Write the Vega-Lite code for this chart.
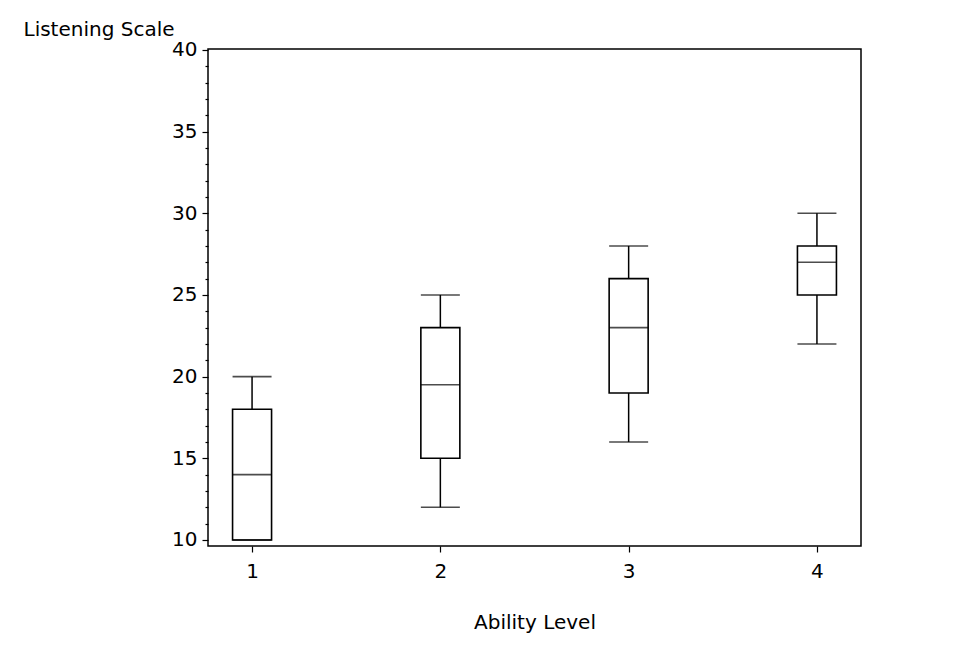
{
  "$schema": "https://vega.github.io/schema/vega-lite/v6.json",
  "width": 653,
  "height": 497,
  "autosize": {"type": "none"},
  "padding": {"left": 208, "top": 49, "right": 106, "bottom": 106},
  "background": "white",
  "config": {
    "view": {"stroke": "black", "strokeWidth": 1.5},
    "font": "DejaVu Sans",
    "axis": {
      "domain": false,
      "grid": false,
      "tickColor": "black",
      "tickWidth": 1.2,
      "labelColor": "black",
      "labelFont": "DejaVu Sans",
      "labelFontSize": 20,
      "labelOverlap": false,
      "titleFont": "DejaVu Sans",
      "titleFontSize": 20,
      "titleFontWeight": "normal",
      "titleColor": "black"
    }
  },
  "data": {
    "values": [
      {"level": "1", "lower": 10, "q1": 10, "median": 14, "q3": 18, "upper": 20},
      {"level": "2", "lower": 12, "q1": 15, "median": 19.5, "q3": 23, "upper": 25},
      {"level": "3", "lower": 16, "q1": 19, "median": 23, "q3": 26, "upper": 28},
      {"level": "4", "lower": 22, "q1": 25, "median": 27, "q3": 28, "upper": 30}
    ]
  },
  "encoding": {
    "x": {
      "field": "level",
      "type": "ordinal",
      "scale": {"type": "point", "padding": 0.234},
      "axis": {
        "title": "Ability Level",
        "labelAngle": 0,
        "tickSize": 6,
        "labelPadding": 9,
        "titlePadding": 31
      }
    }
  },
  "layer": [
    {
      "mark": {"type": "rule", "color": "black", "strokeWidth": 1.5},
      "encoding": {
        "y": {
          "field": "lower",
          "type": "quantitative",
          "scale": {"domain": [9.63, 40.06], "nice": false, "zero": false},
          "axis": {
            "title": "Listening Scale",
            "tickCount": 40,
            "values": [10, 11, 12, 13, 14, 15, 16, 17, 18, 19, 20, 21, 22, 23, 24, 25, 26, 27, 28, 29, 30, 31, 32, 33, 34, 35, 36, 37, 38, 39, 40],
            "labelExpr": "datum.value % 5 === 0 ? datum.label : ''",
            "tickSize": {"condition": {"test": "datum.value % 5 === 0", "value": 6}, "value": 3},
            "labelPadding": 5,
            "titleAngle": 0,
            "titleAlign": "left",
            "titleBaseline": "alphabetic",
            "titleX": -185,
            "titleY": -14
          }
        },
        "y2": {"field": "upper"}
      }
    },
    {
      "mark": {"type": "bar", "fill": "white", "stroke": "black", "strokeWidth": 1.6, "size": 39},
      "encoding": {
        "y": {"field": "q1", "type": "quantitative"},
        "y2": {"field": "q3"}
      }
    },
    {
      "mark": {"type": "tick", "color": "black", "thickness": 1.6, "size": 39},
      "encoding": {"y": {"field": "median", "type": "quantitative"}}
    },
    {
      "mark": {"type": "tick", "color": "black", "thickness": 1.6, "size": 39},
      "encoding": {"y": {"field": "lower", "type": "quantitative"}}
    },
    {
      "mark": {"type": "tick", "color": "black", "thickness": 1.6, "size": 39},
      "encoding": {"y": {"field": "upper", "type": "quantitative"}}
    }
  ]
}
